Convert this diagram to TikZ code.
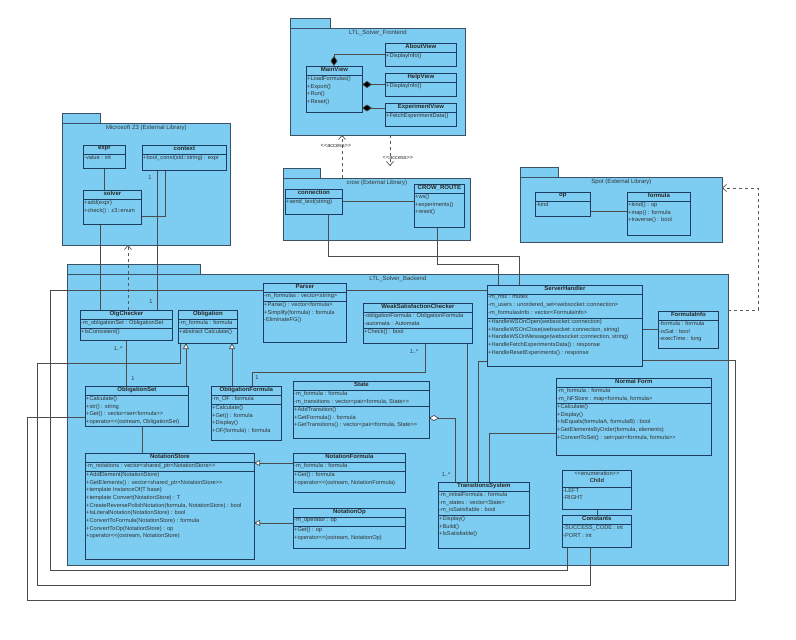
\documentclass[tikz,border=0pt]{standalone}
\usepackage{fontspec}
\setmainfont{Liberation Sans}
\usetikzlibrary{positioning,arrows.meta}

\definecolor{pkgfill}{RGB}{125,205,242}
\definecolor{clsdraw}{RGB}{30,60,95}
\definecolor{pkgdraw}{RGB}{60,80,100}

\tikzset{
  pkg/.style={draw=pkgdraw, fill=pkgfill, line width=0.8pt, inner sep=0pt},
  cls/.style={draw=clsdraw, fill=pkgfill, line width=0.8pt, inner sep=0pt},
  clsline/.style={draw=clsdraw, line width=0.6pt},
  ctitle/.style={font=\fontsize{6}{7}\selectfont\bfseries, inner sep=1pt, text=black!85},
  ctext/.style={font=\fontsize{5.7}{7.7}\selectfont, align=left, inner sep=1pt, text=black!80},
  plabel/.style={font=\fontsize{6}{7}\selectfont, inner sep=1pt, text=black!80},
  mult/.style={font=\fontsize{5.6}{7}\selectfont, inner sep=1pt, text=black!80},
  assoc/.style={draw=black!70, line width=0.7pt},
  compo/.style={assoc, {Diamond[length=10pt,width=7pt,fill=black]}-},
  aggr/.style={assoc, {Diamond[length=10pt,width=6pt,open,fill=white]}-},
  gener/.style={assoc, -{Triangle[length=6pt,width=6pt,open,fill=white]}},
  depend/.style={draw=black!65, line width=0.7pt, dashed, -{Straight Barb[length=4pt,width=7pt]}}
}

% name, x, y, width, height, title, attributes, second rule, operations
\newcommand{\umlclass}[9]{%
  \node[cls, minimum width=#4pt, minimum height=#5pt, anchor=north west] (#1) at (#2,#3) {};
  \node[ctitle, below=0pt of #1.north] {#6};
  \draw[clsline] ([yshift=-9pt]#1.north west) -- ([yshift=-9pt]#1.north east);
  \node[ctext, anchor=north west] at ([yshift=-9pt]#1.north west) {#7};
  \draw[clsline] ([yshift=-#8pt]#1.north west) -- ([yshift=-#8pt]#1.north east);
  \node[ctext, anchor=north west] at ([yshift=-#8pt]#1.north west) {#9};
}
% name, x1, y1, x2, y2, tab width, label
\newcommand{\umlpkg}[7]{%
  \draw[pkg] (#2,#3) rectangle ++(#6,-10);
  \node[pkg, minimum width=#4pt-#2pt, minimum height=#5pt-#3pt, anchor=north west] (#1) at (#2,#3) {};
  \node[plabel, below=1pt of #1.north] {#7};
}

\begin{document}
\begin{tikzpicture}[x=1pt,y=-1pt]
\useasboundingbox[fill=white] (0,0) rectangle (796,640);

% packages
\umlpkg{frontend}{290}{28}{465}{135}{40}{LTL\_Solver\_Frontend}
\umlpkg{z3}{62}{123}{230}{245}{38}{Microsoft Z3 (External Library)}
\umlpkg{crow}{283}{178}{470}{240}{37}{crow (External Library)}
\umlpkg{spot}{520}{177}{722}{242}{38}{Spot (External Library)}
\umlpkg{backend}{67}{274}{728}{565}{133}{LTL\_Solver\_Backend}

% connectors
\draw[compo] (334,66) |- (385,54);
\draw[compo] (362,84.5) -- (385,84.5);
\draw[compo] (362,108) -- (385,108);
\draw[depend] (342,178) -- (342,135);
\node[mult] (acc1) at (336,146) {<{}<access>{}>};
\draw[depend] (390,135) -- (390,166);
\node[mult] (acc2) at (398,158) {<{}<access>{}>};

\draw[assoc] (104,168) -- (104,190);
\draw[assoc] (165,170) |- (141,216);
\draw[assoc] (157,170) -- (157,310);
\node[mult] at (150,178) {1};
\node[mult] at (151,302) {1};
\draw[assoc] (100,224) -- (100,310);
\draw[depend] (128,310) -- (128,245);

\draw[assoc] (328,214) |- (519,256) -- (519,285);
\draw[assoc] (437,227) |- (498,264) -- (498,285);
\draw[assoc] (342,201.5) -- (414,201.5);
\draw[assoc] (590,211) -- (627,211);

\draw[assoc] (126,340) -- (126,386);
\node[mult] at (118,349) {1..*};
\node[mult] at (133,379) {1};
\draw[gener] (186,386) -- (186,343);
\draw[gener] (232,386) -- (232,343);
\draw[assoc] (425,343) |- (252,372) -- (252,386);
\node[mult] at (414,352) {1..*};
\node[mult] at (257,378) {1};
\draw[assoc] (142,426) -- (142,453);
\draw[gener] (293,463) -- (254,463);
\draw[gener] (293,523) -- (254,523);
\draw[aggr] (429,418) -| (455,482);
\node[mult] at (446,475) {1..*};
\draw[assoc] (467,343) -- (467,482);
\draw[assoc] (478,482) |- (487,361);
\draw[assoc] (489,482) |- (556,433);
\draw[assoc] (642,329.5) -- (658,329.5);
\draw[depend] (728,310) -| (758,188) -- (722,188);

\draw[assoc] (487,290) -| (50,570) -| (567,547);
\draw[assoc] (180,343) |- (37,363) |- (590,585) -- (590,547);
\draw[assoc] (85,417) -| (27,600) -| (735,360) -- (642,360);

% frontend classes
\umlclass{mainview}{306}{66}{56}{46}{MainView}{}{9}{+LoadFormulas()\\+Export()\\+Run()\\+Reset()}
\umlclass{aboutview}{385}{43}{71}{23}{AboutView}{}{9}{+DisplayInfo()}
\umlclass{helpview}{385}{73}{71}{23}{HelpView}{}{9}{+DisplayInfo()}
\umlclass{expview}{385}{103}{71}{23}{ExperimentView}{}{9}{+FetchExperimentData()}

% z3 classes
\umlclass{expr}{83}{145}{42}{23}{expr}{-value : int}{23}{}
\umlclass{context}{142}{145}{84}{25}{context}{}{9}{+bool\_const(std::string) : expr}
\umlclass{solver}{83}{190}{58}{34}{solver}{}{9}{+add(expr)\\+check() : z3::enum}

% crow classes
\umlclass{connection}{285}{189}{57}{25}{connection}{}{9}{+send\_text(string)}
\umlclass{route}{414}{184}{50}{43}{CROW\_ROUTE}{}{9}{+ws()\\+experiments()\\+reset()}

% spot classes
\umlclass{op}{535}{192}{55}{24}{op}{-kind}{24}{}
\umlclass{formula}{627}{192}{63}{43}{formula}{}{9}{+kind() : op\\+map() : formula\\+traverse() : bool}

% backend classes
\umlclass{olgchecker}{80}{310}{92}{30}{OlgChecker}{-m\_obligationSet : ObligationSet}{18}{+IsConsistent()}
\umlclass{obligation}{178}{310}{59}{33}{Obligation}{-m\_formula : formula}{18}{+abstract Calculate()}
\umlclass{parser}{263}{283}{83}{59}{Parser}{-m\_formulas : vector<string>}{18}{+Parse() : vector<formula>\\+Simplify(formula) : formula\\-EliminateFG()}
\umlclass{wsc}{363}{303}{109}{40}{WeakSatisfactionChecker}{-obligationFormula : ObligationFormula\\-automata : Automata}{25}{+Check() : bool}
\umlclass{server}{487}{285}{155}{81}{ServerHandler}{-m\_mtx : mutex\\-m\_users : unordered\_set<websocket::connection>\\-m\_formulasInfo : vector<FormulaInfo>}{33}{+HandleWSOnOpen(websocket::connection)\\+HandleWSOnClose(websocket::connection, string)\\+HandleWSOnMessage(websocket::connection, string)\\+HandleFetchExperimentsData() : response\\+HandleResetExperiments() : response}
\umlclass{forminfo}{658}{311}{60}{37}{FormulaInfo}{-formula : formula\\-isSat : bool\\-execTime : long}{37}{}
\umlclass{obset}{85}{386}{103}{40}{ObligationSet}{}{9}{+Calculate()\\+str() : string\\+Get() : vector<set<formula>{}>\\+operator<{}<(ostream, ObligationSet)}
\umlclass{obformula}{211}{386}{70}{54}{ObligationFormula}{-m\_OF : formula}{18}{+Calculate()\\+Get() : formula\\+Display()\\+OF(formula) : formula}
\umlclass{state}{293}{381}{136}{57}{State}{-m\_formula : formula\\-m\_transitions : vector<pair<formula, State>{}>}{25}{+AddTransition()\\+GetFormula() : formula\\+GetTransitions() : vector<pair<formula, State>{}>}
\umlclass{notstore}{85}{453}{169}{106}{NotationStore}{-m\_notations : vector<shared\_ptr<NotationStore>{}>}{18}{+AddElement(NotationStore)\\+GetElements() : vector<shared\_ptr<NotationStore>{}>\\+template InstanceOf(T base)\\+template Convert(NotationStore) : T\\+CreateReversePolishNotation(formula, NotationStore) : bool\\+IsLiteralNotation(NotationStore) : bool\\+ConvertToFormula(NotationStore) : formula\\+ConvertToOp(NotationStore) : op\\+operator<{}<(ostream, NotationStore)}
\umlclass{notformula}{293}{453}{112}{39}{NotationFormula}{-m\_formula : formula}{18}{+Get() : formula\\+operator<{}<(ostream, NotationFormula)}
\umlclass{notop}{293}{508}{112}{40}{NotationOp}{-m\_operator : op}{18}{+Get() : op\\+operator<{}<(ostream, NotationOp)}
\umlclass{normalform}{556}{378}{155}{77}{Normal Form}{-m\_formula : formula\\-m\_NFStore : map<formula, formula>}{25}{+Calculate()\\+Display()\\+IsEquals(formulaA, formulaB) : bool\\+GetElementsByOrder(formula, elements)\\+ConvertToSet() : set<pair<formula, formula>{}>}
\umlclass{transsys}{438}{482}{91}{66}{TransitionsSystem}{-m\_initialFormula : formula\\-m\_states : vector<State>\\-m\_isSatisfiable : bool}{33}{+Display()\\+Build()\\+IsSatisfiable()}

% enumeration
\node[cls, minimum width=69pt, minimum height=39pt, anchor=north west] (child) at (562,470) {};
\node[ctext, below=0pt of child.north, align=center] (childtitle) {<{}<enumeration>{}>\\[-1pt]\textbf{Child}};
\draw[clsline] ([yshift=-17pt]child.north west) -- ([yshift=-17pt]child.north east);
\node[ctext, anchor=north west] at ([yshift=-17pt]child.north west) {-LEFT\\-RIGHT};
\draw[assoc] (child.south) -- ++(0,6);
\umlclass{constants}{562}{515}{69}{32}{Constants}{-SUCCESS\_CODE : int\\-PORT : int}{32}{}
\end{tikzpicture}
\end{document}
